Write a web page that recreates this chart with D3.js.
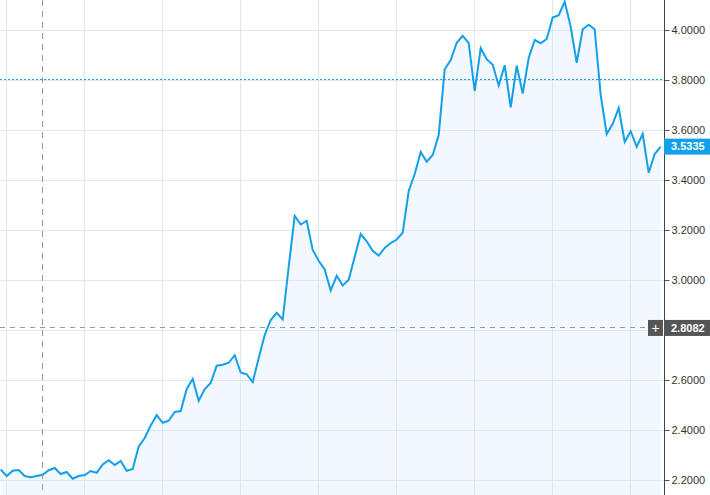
<!DOCTYPE html>
<html><head><meta charset="utf-8">
<script src="https://cdn.jsdelivr.net/npm/d3@7"></script>
<style>
body{margin:0;background:#fff}
svg{display:block;font-family:"Liberation Sans",Arial,Helvetica,sans-serif}
</style>
</head><body>
<svg id="chart" width="710" height="495"></svg>
<script>
// ---- data ----
const values = [
  2.242, 2.216, 2.237, 2.240, 2.216, 2.211, 2.216, 2.221, 2.239, 2.248,
  2.224, 2.232, 2.205, 2.216, 2.220, 2.236, 2.229, 2.262, 2.279, 2.260,
  2.276, 2.237, 2.244, 2.334, 2.368, 2.418, 2.460, 2.429, 2.437, 2.472,
  2.476, 2.564, 2.604, 2.517, 2.564, 2.588, 2.657, 2.661, 2.669, 2.699,
  2.630, 2.623, 2.592, 2.688, 2.780, 2.840, 2.869, 2.842, 3.053, 3.256,
  3.222, 3.237, 3.120, 3.077, 3.042, 2.958, 3.017, 2.978, 3.001, 3.093,
  3.184, 3.155, 3.117, 3.098, 3.128, 3.148, 3.162, 3.189, 3.356, 3.424,
  3.512, 3.473, 3.500, 3.580, 3.843, 3.880, 3.949, 3.977, 3.947, 3.756,
  3.927, 3.883, 3.861, 3.778, 3.859, 3.691, 3.857, 3.746, 3.888, 3.960,
  3.947, 3.964, 4.050, 4.059, 4.113, 4.013, 3.869, 4.003, 4.021, 4.003,
  3.740, 3.584, 3.625, 3.688, 3.553, 3.595, 3.533, 3.584, 3.429, 3.504,
  3.5335
];
const yTicks = [2.2, 2.4, 2.6, 2.8, 3.0, 3.2, 3.4, 3.6, 3.8, 4.0];
const gridIndex = [1, 14, 27, 40, 53, 66, 79, 92, 105];
const crossIndex = 7;
const crossValue = 2.8082;
const refValue = 3.8;
const lastValue = values[values.length - 1];

// ---- layout ----
const W = 710, H = 495, axisX = 664;
const svg = d3.select("#chart");
const x = d3.scaleLinear().domain([0, values.length - 1]).range([0.7, 660.7]);
const y = d3.scaleLinear().domain([2.2, 4.0]).range([480, 30]);
const fmt = d3.format(".4f");

const plot = svg.append("g");
plot.append("defs").append("clipPath").attr("id", "clip")
  .append("rect").attr("x", 0).attr("y", 0).attr("width", axisX).attr("height", H);

// area
plot.append("path").datum(values)
  .attr("clip-path", "url(#clip)")
  .attr("fill", "#f2f8fd")
  .attr("d", d3.area().x((d, i) => x(i)).y0(H).y1(d => y(d)));

// grid
plot.append("g").selectAll("line").data(yTicks).join("line")
  .attr("x1", 0).attr("x2", axisX)
  .attr("y1", d => Math.round(y(d)) + 0.5).attr("y2", d => Math.round(y(d)) + 0.5)
  .attr("stroke", "#dde9f2").attr("stroke-width", 1);
plot.append("g").selectAll("line").data(gridIndex).join("line")
  .attr("y1", 0).attr("y2", H)
  .attr("x1", d => Math.round(x(d)) - 0.5).attr("x2", d => Math.round(x(d)) - 0.5)
  .attr("stroke", "#dde9f2").attr("stroke-width", 1);

// reference dotted line
plot.append("line")
  .attr("x1", 0).attr("x2", axisX)
  .attr("y1", Math.round(y(refValue)) - 0.5).attr("y2", Math.round(y(refValue)) - 0.5)
  .attr("stroke", "#1a9be6").attr("stroke-width", 1).attr("stroke-dasharray", "2,2");

// price line
plot.append("path").datum(values)
  .attr("clip-path", "url(#clip)")
  .attr("fill", "none")
  .attr("stroke", "#12a0e8").attr("stroke-width", 2)
  .attr("d", d3.line().x((d, i) => x(i)).y(d => y(d)));

// crosshair
plot.append("line")
  .attr("x1", Math.round(x(crossIndex)) - 0.5).attr("x2", Math.round(x(crossIndex)) - 0.5)
  .attr("y1", 0).attr("y2", H)
  .attr("stroke", "#999").attr("stroke-width", 1).attr("stroke-dasharray", "6,5");
plot.append("line")
  .attr("x1", 0).attr("x2", 648)
  .attr("y1", Math.round(y(crossValue)) - 0.5).attr("y2", Math.round(y(crossValue)) - 0.5)
  .attr("stroke", "#999").attr("stroke-width", 1).attr("stroke-dasharray", "5,5");

// axis (tick labels hidden under the value labels are not drawn)
const axisTicks = yTicks.filter(t =>
  Math.abs(y(t) - y(crossValue)) > 12 && Math.abs(y(t) - y(lastValue)) > 12);
const axis = svg.append("g").attr("transform", `translate(${axisX + 0.5},0)`)
  .call(d3.axisRight(y).tickValues(axisTicks).tickFormat(fmt).tickSize(5).tickPadding(2));
axis.select(".domain").remove();
axis.selectAll(".tick line").attr("stroke", "#555");
axis.selectAll(".tick text").attr("fill", "#333").style("font-size", "11px")
  .style("font-family", '"Liberation Sans",Arial,sans-serif');
svg.append("line").attr("x1", axisX + 0.5).attr("x2", axisX + 0.5)
  .attr("y1", 0).attr("y2", H).attr("stroke", "#444").attr("stroke-width", 1);

// last value label
const ly = y(lastValue);
svg.append("rect").attr("x", axisX).attr("y", ly - 8).attr("width", W - axisX).attr("height", 16)
  .attr("fill", "#12a0e8");
svg.append("text").attr("x", 671).attr("y", ly).attr("dy", "0.35em")
  .attr("fill", "#fff").style("font-size", "11px").style("font-weight", "bold")
  .text(fmt(lastValue));

// crosshair label
const cy = y(crossValue);
svg.append("rect").attr("x", 648).attr("y", cy - 8).attr("width", 15).attr("height", 16)
  .attr("fill", "#555");
svg.append("text").attr("x", 655.5).attr("y", cy).attr("dy", "0.36em")
  .attr("text-anchor", "middle").attr("fill", "#fff")
  .style("font-size", "14px").text("+");
svg.append("rect").attr("x", axisX).attr("y", cy - 8).attr("width", W - axisX).attr("height", 16)
  .attr("fill", "#555");
svg.append("text").attr("x", 671).attr("y", cy).attr("dy", "0.35em")
  .attr("fill", "#fff").style("font-size", "11px").style("font-weight", "bold")
  .text(fmt(crossValue));
</script>
</body></html>
